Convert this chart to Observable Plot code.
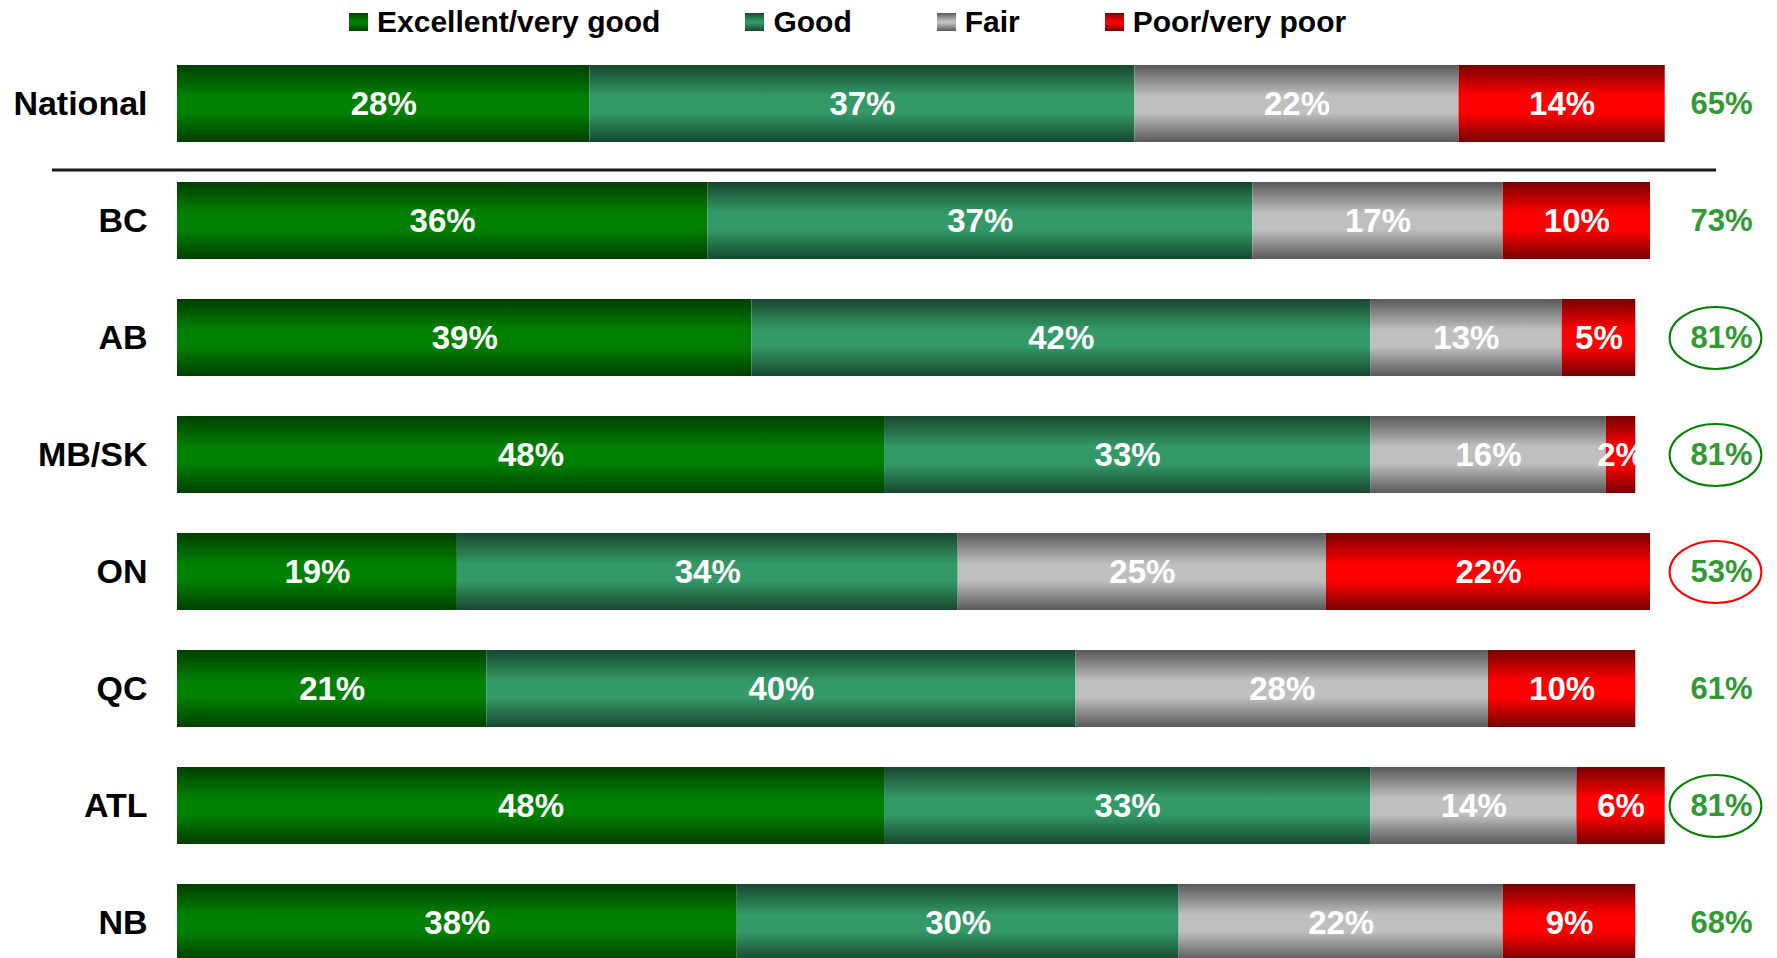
<!DOCTYPE html>
<html>
<head>
<meta charset="utf-8">
<script src="https://cdn.jsdelivr.net/npm/d3@7"></script>
<script src="https://cdn.jsdelivr.net/npm/@observablehq/plot@0.6"></script>
<style>
  html, body { margin: 0; padding: 0; background: #fff; overflow: hidden; }
  body { font-family: "Liberation Sans", Arial, sans-serif; }
  #legend { display: flex; align-items: center; height: 44px; padding-left: 349px; gap: 85px;
            font-size: 30px; font-weight: bold; color: #000; white-space: nowrap; }
  #legend .item { display: flex; align-items: center; }
  #legend .sw { width: 19px; height: 18px; margin-right: 9px; }
</style>
</head>
<body>
<div id="legend"></div>
<div id="chart"></div>
<script>
// ---- data ----
const regions = ["National", "BC", "AB", "MB/SK", "ON", "QC", "ATL", "NB"];
const ratings = ["Excellent/very good", "Good", "Fair", "Poor/very poor"];
const excellent = [28, 36, 39, 48, 19, 21, 48, 38];
const good      = [37, 37, 42, 33, 34, 40, 33, 30];
const fair      = [22, 17, 13, 16, 25, 28, 14, 22];
const poor      = [14, 10,  5,  2, 22, 10,  6,  9];
const positiveTotals = [65, 73, 81, 81, 53, 61, 81, 68];
const circledHigh = ["AB", "MB/SK", "ATL"];
const circledLow = ["ON"];
const separatorBefore = ["BC"];

// ---- styles ----
const edgeColors = ["#003f00", "#17472f", "#595959", "#780000"];
const midColors  = ["#008000", "#339966", "#bfbfbf", "#ff0000"];
const gradIds = ratings.map((_, i) => `grad${i}`);

const series = [excellent, good, fair, poor];
const table = regions.flatMap((region, i) =>
  ratings.map((rating, j) => ({region, rating, value: series[j][i]}))
);

// legend
const legend = d3.select("#legend");
ratings.forEach((r, i) => {
  const it = legend.append("div").attr("class", "item");
  it.append("div").attr("class", "sw")
    .style("background", `linear-gradient(to bottom, ${edgeColors[i]}, ${midColors[i]} 45%, ${midColors[i]} 55%, ${edgeColors[i]})`);
  it.append("span").text(r);
});

// gradient defs
const defsMark = () => {
  const defs = d3.create("svg:defs");
  ratings.forEach((_, i) => {
    const g = defs.append("linearGradient").attr("id", gradIds[i])
      .attr("x1", 0).attr("y1", 0).attr("x2", 0).attr("y2", 1);
    g.append("stop").attr("offset", "0%").attr("stop-color", edgeColors[i]);
    g.append("stop").attr("offset", "40%").attr("stop-color", midColors[i]);
    g.append("stop").attr("offset", "62%").attr("stop-color", midColors[i]);
    g.append("stop").attr("offset", "100%").attr("stop-color", edgeColors[i]);
  });
  return defs.node();
};

// ellipse symbol (drawn with béziers)
const ellipse = {
  draw(ctx, size) {
    const r = Math.sqrt(size / Math.PI);
    const rx = r * 1.48, ry = r, k = 0.5523;
    ctx.moveTo(rx, 0);
    ctx.bezierCurveTo(rx, ry * k, rx * k, ry, 0, ry);
    ctx.bezierCurveTo(-rx * k, ry, -rx, ry * k, -rx, 0);
    ctx.bezierCurveTo(-rx, -ry * k, -rx * k, -ry, 0, -ry);
    ctx.bezierCurveTo(rx * k, -ry, rx, -ry * k, rx, 0);
    ctx.closePath();
  }
};

const chart = Plot.plot({
  width: 1777,
  height: 927,
  marginLeft: 177,
  marginRight: 127,
  marginTop: 21,
  marginBottom: 10,
  style: {fontFamily: "'Liberation Sans', Arial, sans-serif", fontWeight: "bold", background: "white", overflow: "visible"},
  x: {domain: [0, 100], axis: null},
  y: {domain: regions, axis: null, paddingInner: 0.342, paddingOuter: 0},
  color: {domain: ratings, range: gradIds.map(id => `url(#${id})`)},
  marks: [
    defsMark,
    Plot.barX(table, Plot.stackX({x: "value", y: "region", fill: "rating"})),
    Plot.text(table, Plot.stackX({x: "value", y: "region", z: "rating",
      text: d => `${d.value}%`, fill: "white", fontSize: 33, fontWeight: "bold"})),
    Plot.ruleY(separatorBefore, {dy: -51, insetLeft: -125, insetRight: -66, stroke: "#1a1a1a", strokeWidth: 3}),
    Plot.axisY({tickSize: 0, tickPadding: 30, fontSize: 34, fontWeight: "bold", label: null}),
    Plot.dot(circledHigh, {y: d => d, frameAnchor: "right", dx: 65, r: 31, symbol: ellipse,
      stroke: "#008000", strokeWidth: 2, fill: "none"}),
    Plot.dot(circledLow, {y: d => d, frameAnchor: "right", dx: 65, r: 31, symbol: ellipse,
      stroke: "#ff0000", strokeWidth: 2, fill: "none"}),
    Plot.text(regions, {y: d => d, text: (d, i) => `${positiveTotals[i]}%`, frameAnchor: "right", dx: 71,
      textAnchor: "middle", fill: "#339933", fontSize: 31, fontWeight: "bold"})
  ]
});
document.getElementById("chart").appendChild(chart);
</script>
</body>
</html>
